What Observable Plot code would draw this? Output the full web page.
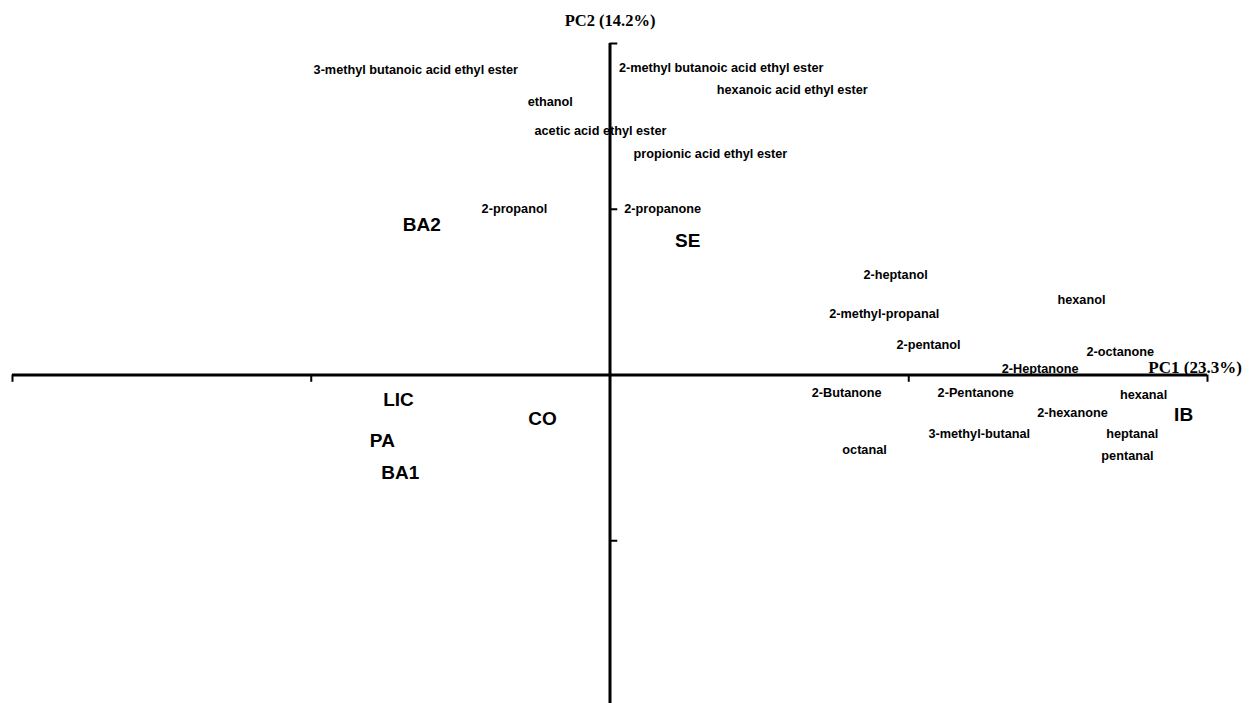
<!DOCTYPE html>
<html>
<head>
<meta charset="utf-8">
<script src="https://cdn.jsdelivr.net/npm/d3@7"></script>
<script src="https://cdn.jsdelivr.net/npm/@observablehq/plot@0.6"></script>
<style>
  html, body { margin: 0; padding: 0; background: #fff; }
  #chart svg { display: block; }
</style>
</head>
<body>
<div id="chart"></div>
<script>
// Sample scores (PC1, PC2)
const sampleNames = ["BA2", "SE", "LIC", "CO", "PA", "BA1", "IB"];
const samplePC1 = [-0.315, 0.130, -0.354, -0.113, -0.381, -0.351, 0.960];
const samplePC2 = [0.454, 0.406, -0.074, -0.131, -0.198, -0.294, -0.119];

// Variable loadings (PC1, PC2)
const varNames = [
  "3-methyl butanoic acid ethyl ester", "2-methyl butanoic acid ethyl ester",
  "hexanoic acid ethyl ester", "ethanol", "acetic acid ethyl ester",
  "propionic acid ethyl ester", "2-propanol", "2-propanone", "2-heptanol",
  "hexanol", "2-methyl-propanal", "2-pentanol", "2-octanone", "2-Heptanone",
  "2-Butanone", "2-Pentanone", "hexanal", "2-hexanone", "3-methyl-butanal",
  "heptanal", "octanal", "pentanal"
];
const varPC1 = [-0.325, 0.186, 0.305, -0.100, -0.016, 0.168, -0.160, 0.088, 0.478,
  0.789, 0.459, 0.533, 0.854, 0.720, 0.396, 0.612, 0.893, 0.774, 0.618, 0.874, 0.426, 0.866];
const varPC2 = [0.919, 0.925, 0.861, 0.825, 0.737, 0.668, 0.502, 0.502, 0.303,
  0.225, 0.183, 0.092, 0.071, 0.017, -0.053, -0.053, -0.059, -0.113, -0.179, -0.179, -0.225, -0.243];

// Axis ticks
const xTicks = [-1, -0.5, 0.5, 1];
const yTicks = [1, 0.5, -0.5, -1];
const xTitle = "PC1 (23.3%)";
const yTitle = "PC2 (14.2%)";

const samples = sampleNames.map((n, i) => ({name: n, x: samplePC1[i], y: samplePC2[i]}));
const vars = varNames.map((n, i) => ({name: n, x: varPC1[i], y: varPC2[i]}));

const chart = Plot.plot({
  width: 1250,
  height: 703,
  marginLeft: 0, marginRight: 0, marginTop: 0, marginBottom: 0,
  style: {background: "#fff", fontFamily: "'Liberation Sans', Arial, sans-serif"},
  x: {domain: [-1, 1], range: [12, 1207], axis: null},
  y: {domain: [-1, 1], range: [706, 43], axis: null},
  marks: [
    Plot.ruleY([0], {x1: -1, x2: 1, stroke: "#000", strokeWidth: 3}),
    Plot.ruleX([0], {y1: -1, y2: 1, stroke: "#000", strokeWidth: 3}),
    Plot.ruleX(xTicks, {x: d => d, y1: 0, y2: -0.022, stroke: "#000", strokeWidth: 2}),
    Plot.ruleY(yTicks, {y: d => d, x1: 0, x2: 0.013, stroke: "#000", strokeWidth: 2}),
    Plot.text(vars, {x: "x", y: "y", text: "name", fontSize: 12.7, fontWeight: "bold", fill: "#000"}),
    Plot.text(samples, {x: "x", y: "y", text: "name", fontSize: 19, fontWeight: "bold", fill: "#000"}),
    Plot.text([yTitle], {x: 0, y: 1.069, text: d => d, fontSize: 16.5, fontWeight: "bold",
      fontFamily: "'Liberation Serif', 'Times New Roman', serif", fill: "#000"}),
    Plot.text([xTitle], {x: 0.901, y: 0.023, text: d => d, fontSize: 17, fontWeight: "bold",
      textAnchor: "start", fontFamily: "'Liberation Serif', 'Times New Roman', serif", fill: "#000"})
  ]
});
document.getElementById("chart").appendChild(chart);
</script>
</body>
</html>
